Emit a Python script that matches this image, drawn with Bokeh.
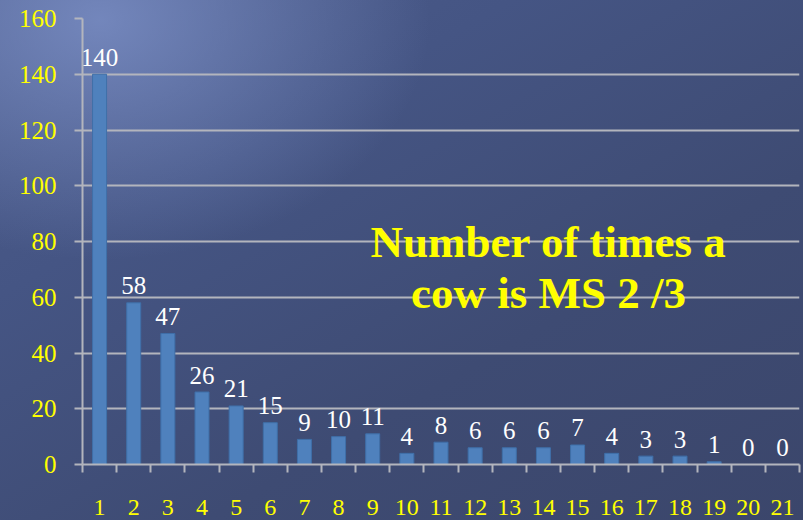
from bokeh.plotting import figure
from bokeh.models import Range1d, FixedTicker, ColumnDataSource, Label
from bokeh.core.properties import value
from bokeh.embed import file_html
from bokeh.resources import INLINE

# ---- data ----
categories = list(range(1, 22))
counts = [140, 58, 47, 26, 21, 15, 9, 10, 11, 4, 8, 6, 6, 6, 7, 4, 3, 3, 1, 0, 0]
y_ticks = [0, 20, 40, 60, 80, 100, 120, 140, 160]
title_lines = ["Number of times a", "cow is MS 2 /3"]

SERIF = "Liberation Serif"
YELLOW = "#ffff00"
GRID = "#b3b5bd"
BAR = "#4f81bd"

src = ColumnDataSource(dict(x=categories, y=counts, label=[str(c) for c in counts]))

p = figure(width=803, height=520, output_backend="svg", toolbar_location=None,
           x_range=Range1d(0.5, 21.5), y_range=Range1d(0, 160),
           min_border_left=82, min_border_right=4, min_border_top=18, min_border_bottom=56)

p.styles = {"background": "radial-gradient(ellipse 330px 240px at 100px 20px, rgba(125,145,200,0.80) 0%, rgba(125,145,200,0) 100%), "
                          "linear-gradient(150deg, #4d5d8c 0%, #455584 30%, #3e4b73 65%, #3b466b 100%)"}
p.background_fill_color = None
p.border_fill_color = None
p.outline_line_color = None

p.vbar(x="x", top="y", width=0.41, source=src, fill_color=BAR, line_color="#3f6fa8", line_width=1)

p.text(x="x", y="y", text="label", source=src, text_align="center", text_baseline="alphabetic",
       y_offset=-17, text_color="white", text_font=value(SERIF), text_font_size="25px")

for line, yy in zip(title_lines, [80.0, 61.6]):
    p.add_layout(Label(x=14.15, y=yy, text=line, text_align="center", text_baseline="alphabetic",
                       text_color=YELLOW, text_font=SERIF, text_font_style="bold", text_font_size="45px"))

# y axis
ya = p.yaxis[0]
ya.ticker = FixedTicker(ticks=y_ticks)
ya.major_tick_out = 8
ya.major_tick_in = 0
ya.minor_tick_out = 0
ya.minor_tick_in = 0
ya.major_tick_line_color = GRID
ya.major_tick_line_width = 2
ya.axis_line_color = GRID
ya.axis_line_width = 2
ya.major_label_standoff = 18
ya.major_label_text_color = YELLOW
ya.major_label_text_font = SERIF
ya.major_label_text_font_size = "25px"

# x axis
xa = p.xaxis[0]
xa.ticker = FixedTicker(ticks=categories, minor_ticks=[c - 0.5 for c in categories] + [categories[-1] + 0.5])
xa.major_tick_out = 0
xa.major_tick_in = 0
xa.minor_tick_out = 8
xa.minor_tick_in = 0
xa.minor_tick_line_color = GRID
xa.minor_tick_line_width = 2
xa.axis_line_color = GRID
xa.axis_line_width = 2
xa.major_label_standoff = 27
xa.major_label_text_color = YELLOW
xa.major_label_text_font = SERIF
xa.major_label_text_font_size = "24px"

p.xgrid.grid_line_color = None
p.ygrid.ticker = FixedTicker(ticks=y_ticks)
p.ygrid.grid_line_color = GRID
p.ygrid.grid_line_width = 2

open("out.html", "w").write(file_html(p, INLINE))
